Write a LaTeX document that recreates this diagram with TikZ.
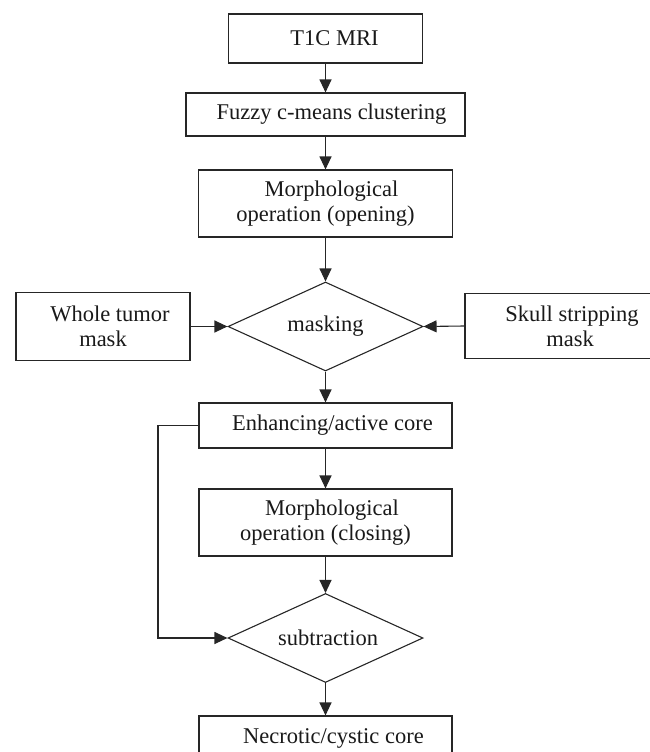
\documentclass[tikz,border=0pt]{standalone}
\usepackage{fontspec}
\setmainfont{Liberation Serif}
\usetikzlibrary{arrows.meta,shapes.geometric}
\begin{document}
\begin{tikzpicture}[x=1pt,y=-1pt,
  line width=1.1pt, draw=black!85,
  every node/.style={font=\fontsize{22.5}{25}\selectfont, text=black!90},
  box/.style={draw, rectangle, inner sep=0pt, align=center},
  dia/.style={draw, diamond, shape aspect=2.2, inner sep=0pt, minimum width=195pt, minimum height=89pt},
  arr/.style={-{Triangle[length=13pt,width=12pt]}}]
\useasboundingbox (0,0) rectangle (649,752);
\node[box, minimum width=194pt, minimum height=49pt] (t1c) at (325.5,38.5) {\hspace*{18pt}T1C MRI};
\node[box, minimum width=279pt, minimum height=43pt] (fcm) at (325.5,114.5) {\hspace*{12pt}Fuzzy c-means clustering};
\node[box, minimum width=254pt, minimum height=67pt] (mop) at (325.5,203.5) {\hspace*{12pt}Morphological\\operation (opening)};
\node[dia] (mask) at (325.5,326.5) {masking};
\node[box, minimum width=174pt, minimum height=67.5pt] (wt) at (103,326.5) {\hspace*{14pt}Whole tumor\\mask};
\node[box, minimum width=210pt, minimum height=65pt] (skull) at (570,326) {\hspace*{4pt}Skull stripping\\mask};
\node[box, minimum width=253pt, minimum height=45pt] (enh) at (325.5,425.5) {\hspace*{14pt}Enhancing/active core};
\node[box, minimum width=253pt, minimum height=67pt] (mcl) at (325.5,522.5) {\hspace*{13pt}Morphological\\operation (closing)};
\node[dia] (sub) at (325.5,638) {\hspace*{5pt}subtraction};
\node[box, minimum width=253pt, minimum height=45pt] (nec) at (325.5,738.5) {\hspace*{16pt}Necrotic/cystic core};
\coordinate (loop) at (158,0);
\draw[arr] (t1c.south) -- (fcm.north);
\draw[arr] (fcm.south) -- (mop.north);
\draw[arr] (mop.south) -- (mask.north);
\draw[arr] (wt.east) -- (mask.west);
\draw[arr] (skull.west) -- (mask.east);
\draw[arr] (mask.south) -- (enh.north);
\draw[arr] (enh.south) -- (mcl.north);
\draw[arr] (mcl.south) -- (sub.north);
\draw[arr] (enh.west) -- (enh.west -| loop) |- (sub.west);
\draw[arr] (sub.south) -- (nec.north);
\end{tikzpicture}
\end{document}
